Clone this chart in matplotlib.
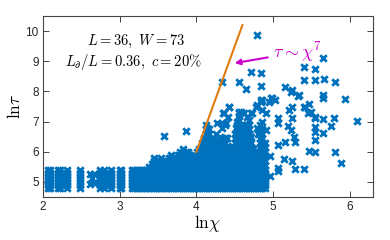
import matplotlib
matplotlib.use("Agg")
import matplotlib.pyplot as plt

plt.rcParams['mathtext.fontset'] = 'cm'
plt.rcParams['font.family'] = ['Liberation Sans', 'DejaVu Sans']

BLUE = '#0072BD'
ORANGE = '#E07B10'
MAGENTA = '#CC00CC'

# ---- data ----
# shared lower levels of the dense band (every column starts here)
base_levels = [4.8, 4.9, 5.0, 5.1, 5.2, 5.3, 5.4]

# flat band columns (only base levels)
flat_x = [2.07, 2.09, 2.20, 2.22, 2.31, 2.48,
          2.75, 2.79, 2.89, 3.00, 3.02,
          3.16, 3.19, 3.22, 3.26, 3.29, 3.32, 3.35]

# rising / dense columns: x and extra levels above the base
col_x = [3.38, 3.42, 3.45, 3.48, 3.51, 3.54, 3.57, 3.61, 3.64, 3.67, 3.70,
         3.73, 3.76, 3.79, 3.83, 3.86, 3.89, 3.92, 3.95, 3.98,
         4.01, 4.04, 4.07, 4.10, 4.13, 4.16, 4.19, 4.22, 4.25, 4.28,
         4.31, 4.34, 4.37, 4.40, 4.43, 4.46, 4.50, 4.53, 4.56, 4.59,
         4.62, 4.65, 4.68, 4.71, 4.74, 4.77, 4.80, 4.83, 4.86, 4.89]
col_extra = [
    [5.5],
    [5.5, 5.6],
    [5.5, 5.6, 5.7, 5.8],
    [5.5, 5.6],
    [5.5, 5.6, 5.7],
    [5.5, 5.6, 5.7, 5.8],
    [5.5, 5.6, 5.7],
    [5.5, 5.6],
    [5.5, 5.6, 5.7, 5.8],
    [5.5, 5.6, 5.7, 5.8, 5.9],
    [5.5, 5.6, 5.7],
    [5.5, 5.6, 5.7, 5.8],
    [5.5, 5.6, 5.7, 5.8, 5.9],
    [5.5, 5.6, 5.7, 5.8, 5.9, 6.0],
    [5.5, 5.6, 5.7, 5.8, 5.9, 6.0, 6.1],
    [5.5, 5.6, 5.7, 5.8, 5.9, 6.0],
    [5.5, 5.6, 5.7, 5.8, 5.9, 6.0],
    [5.5, 5.6, 5.7, 5.8, 5.9],
    [5.5, 5.6, 5.7, 5.8, 5.9],
    [5.5, 5.6, 5.7, 5.8],
    [5.55, 5.7, 5.85, 6.0],
    [5.55, 5.7, 5.85, 6.0, 6.1],
    [5.55, 5.7, 5.85, 6.0, 6.15, 6.3],
    [5.55, 5.7, 5.85, 6.0, 6.15, 6.3, 6.45],
    [5.55, 5.7, 5.85, 6.0, 6.15, 6.3, 6.45, 6.6, 6.75, 6.9],
    [5.55, 5.7, 5.85, 6.0, 6.15, 6.3, 6.45, 6.6, 6.75],
    [5.55, 5.7, 5.85, 6.0, 6.15, 6.3, 6.4],
    [5.55, 5.7, 5.85, 6.0, 6.2, 6.4],
    [5.55, 5.7, 5.85, 6.0, 6.15, 6.3, 6.6],
    [5.55, 5.7, 5.85, 6.0, 6.15, 6.3, 6.4],
    [5.55, 5.7, 5.85, 6.0, 6.2, 6.5],
    [5.55, 5.7, 5.85, 6.0, 6.15, 6.3, 6.4, 6.8, 6.95],
    [5.55, 5.7, 5.85, 6.0, 6.15, 6.3, 6.45, 6.9],
    [5.55, 5.7, 5.85, 6.1, 6.45],
    [5.55, 5.7, 5.85, 6.0],
    [5.55, 5.7, 5.85, 6.0, 6.2],
    [5.55, 5.7, 5.85, 6.0, 6.15, 6.3, 6.45, 6.6],
    [5.55, 5.7, 5.85, 6.0, 6.15, 6.3, 6.45, 6.6, 6.75, 6.9, 7.0],
    [5.55, 5.7, 5.85, 6.0, 6.15, 6.3, 6.45, 6.6, 6.75, 6.9, 7.05, 7.2, 7.3],
    [5.55, 5.7, 5.85, 6.0, 6.15, 6.3, 6.45, 6.6, 6.75, 6.9],
    [5.55, 5.7, 5.85, 6.0, 6.15, 6.3, 6.45, 6.6],
    [5.55, 5.7, 5.85, 6.0, 6.15, 6.3, 6.45, 6.6, 6.75, 6.9],
    [5.55, 5.7, 5.85, 6.0, 6.15, 6.3, 6.45, 6.6, 6.75, 6.9, 7.05],
    [5.55, 5.7, 5.85, 6.0, 6.15, 6.3, 6.5],
    [5.55, 5.7, 5.85, 6.0, 6.1],
    [5.55, 5.7, 5.85, 6.0],
    [5.55, 5.7, 5.9, 6.6],
    [5.55, 5.7, 5.85, 6.0, 6.15, 6.3, 6.45, 6.6, 6.75, 6.9],
    [5.55, 5.7, 5.85, 6.0, 6.15, 6.3, 6.45, 6.6, 6.75, 7.0],
    [5.55, 5.7, 5.85, 6.0, 6.15, 6.3],
]

# isolated points
pts_x = [2.61, 2.64, 2.61, 2.67, 2.67,
         3.58, 3.86,
         4.34, 4.56, 4.65, 4.71, 4.84, 4.84, 4.79,
         4.43, 4.35, 4.41, 4.56, 4.62, 4.66, 4.79, 4.86, 4.73, 4.91,
         4.27, 4.39, 4.14, 4.52, 4.39, 4.69, 4.79, 4.91,
         5.65, 5.40, 5.54, 5.40, 5.54, 5.66, 5.81, 5.16, 5.25, 5.34,
         5.65, 5.65, 5.94, 4.97, 5.03, 5.25, 5.40, 5.47, 4.84, 4.43,
         4.36, 4.58, 4.71, 5.45, 5.49, 6.10, 5.79, 5.65, 5.54, 5.76,
         5.25, 5.07, 5.07, 5.19, 5.23, 5.54, 5.54, 5.65, 5.27, 5.16,
         5.29, 5.54, 5.07, 5.47, 5.54, 5.81, 5.88, 5.14, 5.25, 5.29,
         5.40, 5.07, 5.07, 4.96, 4.96, 5.23, 5.32, 4.95, 4.84, 5.42,
         5.21, 5.55, 4.78, 4.86, 4.99]
pts_y = [5.28, 5.12, 4.92, 4.98, 5.28,
         6.52, 6.69,
         8.30, 8.30, 8.07, 8.66, 8.60, 8.18, 9.87,
         7.48, 7.28, 7.15, 7.32, 7.28, 7.15, 7.55, 7.72, 7.28, 7.28,
         6.95, 6.95, 6.79, 6.79, 6.46, 6.56, 6.79, 6.72,
         9.12, 8.82, 8.76, 8.38, 8.38, 8.43, 8.32, 8.14, 8.05, 7.88,
         7.88, 7.80, 7.75, 7.77, 7.72, 7.50, 7.50, 7.58, 7.72, 7.47,
         7.27, 7.31, 7.27, 7.27, 7.33, 7.03, 7.11, 7.09, 7.11, 6.85,
         7.11, 7.11, 6.94, 6.85, 6.72, 6.83, 6.66, 6.61, 6.50, 6.33,
         6.33, 6.39, 6.23, 6.04, 6.00, 5.98, 5.62, 5.75, 5.70, 5.42,
         5.42, 5.45, 5.35, 5.20, 5.86, 7.99, 7.85, 7.66, 7.66, 7.50,
         7.38, 7.16, 7.50, 7.38, 7.77]

fit_x = [4.0, 4.6]
fit_y = [6.0, 10.2]

x_ticks = [2, 3, 4, 5, 6]
y_ticks = [5, 6, 7, 8, 9, 10]

# ---- assemble point lists ----
all_x, all_y = [], []
for cx in flat_x:
    for yv in base_levels:
        all_x.append(cx); all_y.append(yv)
for cx, ex in zip(col_x, col_extra):
    for yv in base_levels + ex:
        all_x.append(cx); all_y.append(yv)
all_x += pts_x
all_y += pts_y

fig = plt.figure(figsize=(3.9, 2.4), dpi=100)
ax = fig.add_axes([0.110, 0.179, 0.846, 0.754])

ax.scatter(all_x, all_y, marker='x', s=22, linewidths=2.0, color=BLUE, zorder=2)
ax.plot(fit_x, fit_y, color=ORANGE, lw=1.5, zorder=3)

ax.set_xlim(2, 6.3)
ax.set_ylim(4.5, 10.5)
ax.set_xticks(x_ticks)
ax.set_yticks(y_ticks)
ax.tick_params(direction='in', top=True, right=True, length=4, width=0.6,
               labelsize=8.5, colors='#262626', pad=3)
for sp in ax.spines.values():
    sp.set_color('#444444')
    sp.set_linewidth(0.8)

ax.set_xlabel(r'$\mathrm{ln}\chi$', fontsize=12.5, labelpad=0)
ax.set_ylabel(r'$\mathrm{ln}\tau$', fontsize=12.5, labelpad=2)

ax.text(3.21, 9.67, r'$L=36,\ W=73$', fontsize=10.5, ha='center', va='center')
ax.text(3.18, 8.97, r'$L_\partial/L=0.36,\ c=20\%$', fontsize=10.5, ha='center', va='center')

ax.text(5.0, 9.3, r'$\tau\sim\chi^7$', fontsize=13, color=MAGENTA, ha='left', va='center')
ax.annotate('', xy=(4.50, 8.94), xytext=(4.93, 9.13),
            arrowprops=dict(arrowstyle='-|>', color=MAGENTA, lw=1.5,
                            mutation_scale=8, shrinkA=0, shrinkB=0))

fig.savefig('out.png', dpi=100)
